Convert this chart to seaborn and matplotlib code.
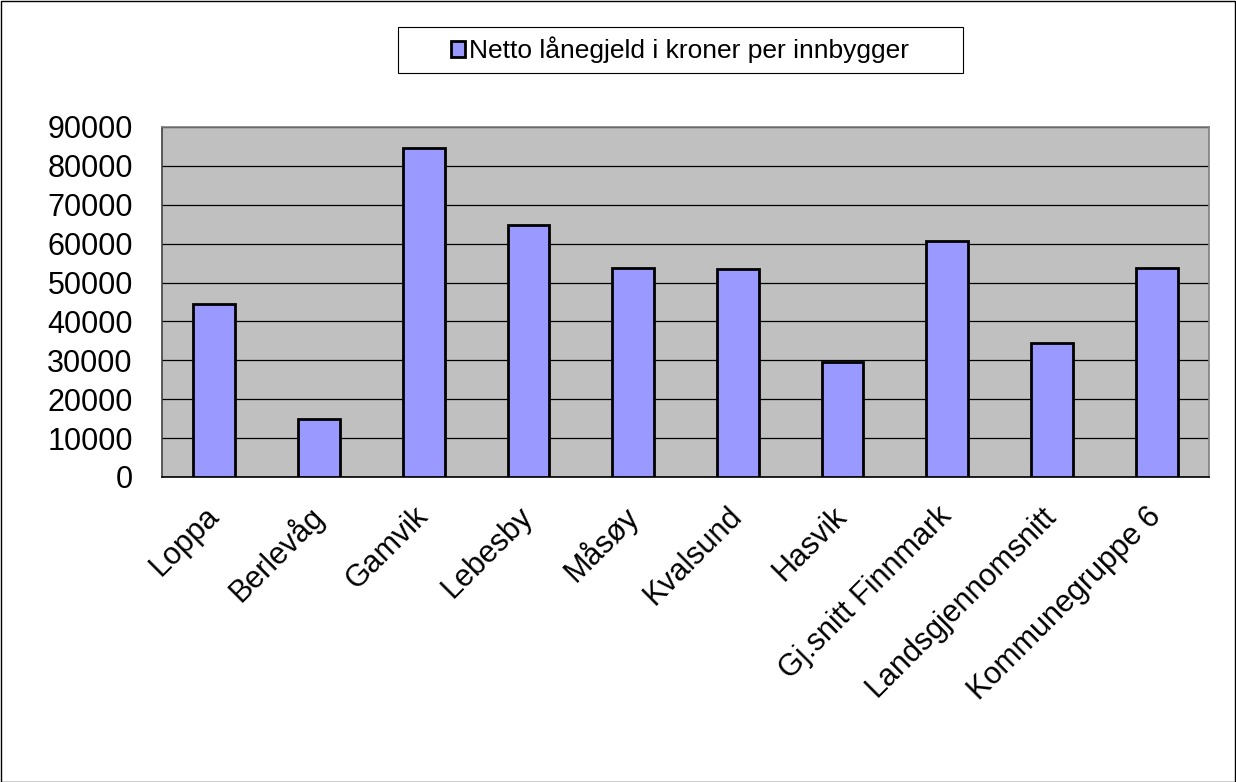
import matplotlib
matplotlib.use('Agg')
import matplotlib.pyplot as plt
import seaborn as sns
import pandas as pd
from matplotlib.patches import Rectangle

# Data
kommuner = ['Loppa', 'Berlevåg', 'Gamvik', 'Lebesby', 'Måsøy', 'Kvalsund',
            'Hasvik', 'Gj.snitt Finnmark', 'Landsgjennomsnitt', 'Kommunegruppe 6']
laanegjeld = [44500, 14800, 84500, 64800, 53800, 53500, 29700, 60700, 34500, 53700]
series_name = 'Netto lånegjeld i kroner per innbygger'
y_ticks = [0, 10000, 20000, 30000, 40000, 50000, 60000, 70000, 80000, 90000]

df = pd.DataFrame({'Kommune': kommuner, 'Lanegjeld': laanegjeld})

sns.set_style('white')
plt.rcParams['font.family'] = ['Liberation Sans', 'DejaVu Sans']
plt.rcParams['text.color'] = 'black'
plt.rcParams['xtick.color'] = 'black'
plt.rcParams['ytick.color'] = 'black'

fig = plt.figure(figsize=(12.36, 7.82), dpi=100)
ax = fig.add_axes([162 / 1236, 1 - 477 / 782, (1209 - 162) / 1236, (477 - 127) / 782])
ax.set_facecolor('#C0C0C0')

sns.barplot(data=df, x='Kommune', y='Lanegjeld', color='#9999FF', width=0.4,
            edgecolor='black', linewidth=2, saturation=1, label=series_name,
            ax=ax, zorder=3)
handles, labels = ax.get_legend_handles_labels()
if ax.get_legend() is not None:
    ax.get_legend().remove()

# Horizontal gridlines
ax.set_ylim(0, 90000)
ax.set_yticks(y_ticks)
ax.set_yticklabels([str(v) for v in y_ticks], fontsize=22, color='black')
ax.yaxis.grid(True, color='black', linewidth=0.9, zorder=0)
ax.set_axisbelow(True)

# Category ticks between bars, labels centered under bars
ax.set_xlim(-0.5, len(kommuner) - 0.5)
ax.set_xticks(range(len(kommuner)))
ax.set_xticks([i - 0.5 for i in range(len(kommuner) + 1)], minor=True)
ax.set_xticklabels(kommuner, fontsize=22, rotation=45, ha='right', va='center',
                   rotation_mode='anchor', color='black')
ax.tick_params(axis='x', which='major', length=0, pad=25)
ax.tick_params(axis='x', which='minor', length=7, width=1, color='black', direction='out')
ax.tick_params(axis='y', length=7, width=1, color='black', direction='out', pad=14)
ax.set_xlabel('')
ax.set_ylabel('')

for side in ['top', 'right']:
    ax.spines[side].set_color('#808080')
    ax.spines[side].set_linewidth(1.2)
ax.spines['left'].set_color('#404040')
ax.spines['left'].set_linewidth(1.2)
ax.spines['bottom'].set_color('black')
ax.spines['bottom'].set_linewidth(1.2)

# Legend box at the top
fig.patches.append(Rectangle((398 / 1236, 1 - 73 / 782), (963 - 398) / 1236, 46 / 782,
                             transform=fig.transFigure, facecolor='white',
                             edgecolor='black', linewidth=0.8))
leg = fig.legend(handles, labels, loc='center', bbox_to_anchor=(680 / 1236, 1 - 50 / 782),
                 frameon=False, fontsize=19, handlelength=0.55, handleheight=0.55,
                 handletextpad=0.15, borderpad=0, labelcolor='black')

# Outer border of the chart area
fig.patches.append(Rectangle((0.5 / 1236, 0.5 / 782), 1 - 1.5 / 1236, 1 - 1.5 / 782,
                             transform=fig.transFigure, fill=False,
                             edgecolor='black', linewidth=1))

fig.savefig('out.png', dpi=100)
